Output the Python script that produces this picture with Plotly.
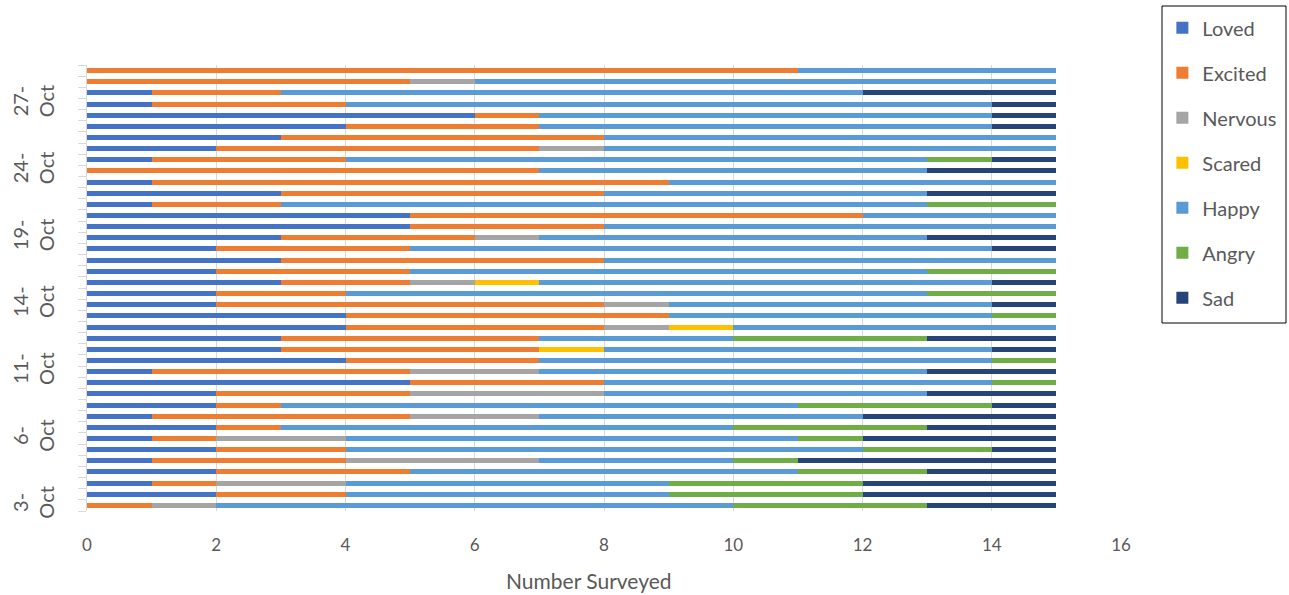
import plotly.graph_objects as go

# School days surveyed (each day has a morning and an afternoon entry)
days = ["3", "4", "5", "6", "7", "10", "11", "12", "13", "14",
        "17", "18", "19", "20", "21", "24", "25", "26", "27", "28"]
month = "Oct"
label_every = 6

# Counts per entry, listed from the first entry (bottom) to the last (top)
loved   = [0, 2, 1, 2, 1, 2, 1, 2, 1, 2, 2, 5, 1, 4, 3, 3, 4, 4, 2, 2,
           3, 2, 3, 2, 3, 5, 5, 1, 3, 1, 0, 1, 2, 3, 4, 6, 1, 1, 0, 0]
excited = [1, 2, 1, 3, 3, 2, 1, 1, 4, 1, 3, 3, 4, 3, 4, 4, 4, 5, 6, 2,
           2, 3, 5, 3, 3, 3, 7, 2, 5, 8, 7, 3, 5, 5, 3, 1, 3, 2, 5, 11]
nervous = [1, 0, 2, 0, 3, 0, 2, 0, 2, 0, 3, 0, 2, 0, 0, 0, 1, 0, 1, 0,
           1, 0, 0, 0, 1, 0, 0, 0, 0, 0, 0, 0, 1, 0, 0, 0, 0, 0, 1, 0]
scared  = [0, 0, 0, 0, 0, 0, 0, 0, 0, 0, 0, 0, 0, 0, 1, 0, 1, 0, 0, 0,
           1, 0, 0, 0, 0, 0, 0, 0, 0, 0, 0, 0, 0, 0, 0, 0, 0, 0, 0, 0]
happy   = [8, 5, 5, 6, 3, 8, 7, 7, 5, 8, 5, 6, 6, 7, 6, 3, 5, 5, 5, 9,
           7, 8, 7, 9, 6, 7, 3, 10, 5, 6, 6, 9, 7, 7, 7, 7, 10, 9, 9, 4]
angry   = [3, 3, 3, 2, 1, 2, 1, 3, 0, 3, 0, 1, 0, 1, 0, 3, 0, 1, 0, 2,
           0, 2, 0, 0, 0, 0, 0, 2, 0, 0, 0, 1, 0, 0, 0, 0, 0, 0, 0, 0]
sad     = [2, 3, 3, 2, 4, 1, 3, 2, 3, 1, 2, 0, 2, 0, 1, 2, 0, 0, 1, 0,
           1, 0, 0, 1, 2, 0, 0, 0, 2, 0, 2, 1, 0, 0, 1, 1, 1, 3, 0, 0]

series = [
    ("Loved", loved, "#4472C4"),
    ("Excited", excited, "#ED7D31"),
    ("Nervous", nervous, "#A5A5A5"),
    ("Scared", scared, "#FFC000"),
    ("Happy", happy, "#5B9BD5"),
    ("Angry", angry, "#70AD47"),
    ("Sad", sad, "#264478"),
]

n_rows = len(loved)
rows = list(range(n_rows))
row_day = [days[i // 2] for i in rows]
label_rows = rows[::label_every]
label_text = [f"{row_day[i]}-<br>{month}" for i in label_rows]
boundaries = [i - 0.5 for i in range(n_rows + 1)]

FONT = "Lato, 'Open Sans', sans-serif"
TXT = "#595959"
GRID = "#D9D9D9"

fig = go.Figure()
for name, vals, color in series:
    fig.add_trace(go.Bar(
        y=rows, x=vals, name=name, orientation="h",
        marker=dict(color=color, line=dict(width=0)),
        legendgroup=name,
    ))

fig.update_layout(
    width=1289, height=595,
    barmode="stack", bargap=0.55,
    paper_bgcolor="white", plot_bgcolor="white",
    margin=dict(l=87, r=168, t=65, b=84, autoexpand=False),
    font=dict(family=FONT, color=TXT, size=16),
    showlegend=True,
    legend=dict(
        x=1.040, xanchor="left", y=1.127, yanchor="top",
        traceorder="grouped", tracegroupgap=16, maxheight=420,
        font=dict(size=20, color=TXT, family=FONT),
        bgcolor="rgba(0,0,0,0)", borderwidth=0,
    ),
    xaxis=dict(
        range=[0, 16], dtick=2, tick0=0,
        showgrid=True, gridcolor=GRID, gridwidth=1,
        zeroline=False, showline=False, ticks="",
        tickfont=dict(size=17, color=TXT),
        ticklabelstandoff=22,
    ),
    yaxis=dict(
        range=[-0.5, n_rows - 0.5],
        tickmode="array", tickvals=label_rows, ticktext=label_text,
        tickangle=-90, ticks="",
        tickfont=dict(size=20, color=TXT),
        showgrid=False, zeroline=False,
        showline=True, linecolor=GRID, linewidth=1,
        ticklabelstandoff=24,
        minor=dict(tickmode="array", tickvals=boundaries, ticks="outside",
                   ticklen=8, tickcolor=GRID, tickwidth=1, showgrid=False),
    ),
    shapes=[dict(
        type="rect", xref="paper", yref="paper",
        x0=(1162 - 87) / 1034, x1=(1286 - 87) / 1034,
        y0=(511 - 323) / 446, y1=(511 - 6) / 446,
        line=dict(color="black", width=1), fillcolor="rgba(0,0,0,0)",
    )],
    annotations=[dict(
        text="Number Surveyed", xref="paper", yref="paper",
        x=(589 - 87) / 1034, y=(511 - 580) / 446,
        xanchor="center", yanchor="middle", showarrow=False,
        font=dict(size=21, color=TXT, family=FONT),
    )],
)

fig.write_html("out.html")
